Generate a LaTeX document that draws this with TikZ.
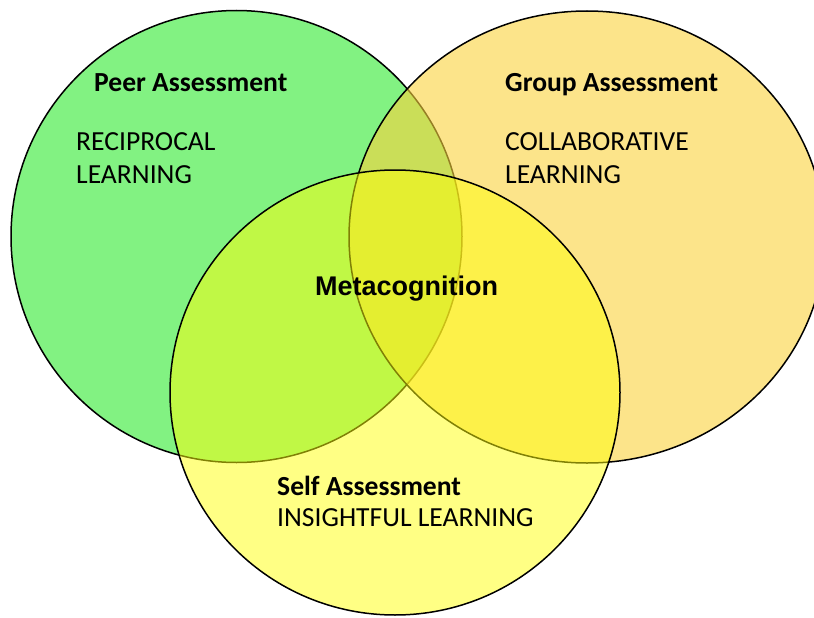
\documentclass[tikz,border=0pt]{standalone}
\usepackage{fontspec}
\setmainfont{Carlito}
\newfontfamily\arialfont{Liberation Sans}
\definecolor{peergreen}{RGB}{130,242,130}
\definecolor{grouporange}{RGB}{250,210,60}
\definecolor{selfyellow}{RGB}{255,255,10}
\tikzset{
  venn/.style={draw=black, line width=1.5pt},
  lbl/.style={inner sep=0pt, anchor=base west, font=\fontsize{27.6}{33}\selectfont},
  lblb/.style={lbl, font=\fontsize{27.6}{33}\selectfont\bfseries},
  meta/.style={inner sep=0pt, anchor=base west, font=\fontsize{27}{33}\selectfont\arialfont\bfseries}
}
\begin{document}
\begin{tikzpicture}[x=1pt,y=-1pt]
\useasboundingbox (0,0) rectangle (814,618);
\clip (0,0) rectangle (814,618);
\fill[white] (0,0) rectangle (814,618);
% Peer (green)
\path[venn, fill=peergreen] (236.5,236.5) ellipse [x radius=225.5, y radius=226];
% Group (orange)
\path[venn, fill=grouporange, fill opacity=0.6] (587,237) ellipse [x radius=238, y radius=226];
% Self (yellow)
\path[venn, fill=selfyellow, fill opacity=0.5] (395,392.5) ellipse [x radius=225, y radius=222.5];
% labels
\node[lblb] (peer) at (94,92) {Peer Assessment};
\node[lbl] (rec1) at (76,150) {RECIPROCAL};
\node[lbl] (rec2) at (76,183) {LEARNING};
\node[lblb] (group) at (505,92) {Group Assessment};
\node[lbl] (col1) at (505,150) {COLLABORATIVE};
\node[lbl] (col2) at (505,183) {LEARNING};
\node[meta] (metacog) at (315,295) {Metacognition};
\node[lblb] (self) at (277,495) {Self Assessment};
\node[lbl] (ins) at (277,526) {INSIGHTFUL LEARNING};
\end{tikzpicture}
\end{document}
